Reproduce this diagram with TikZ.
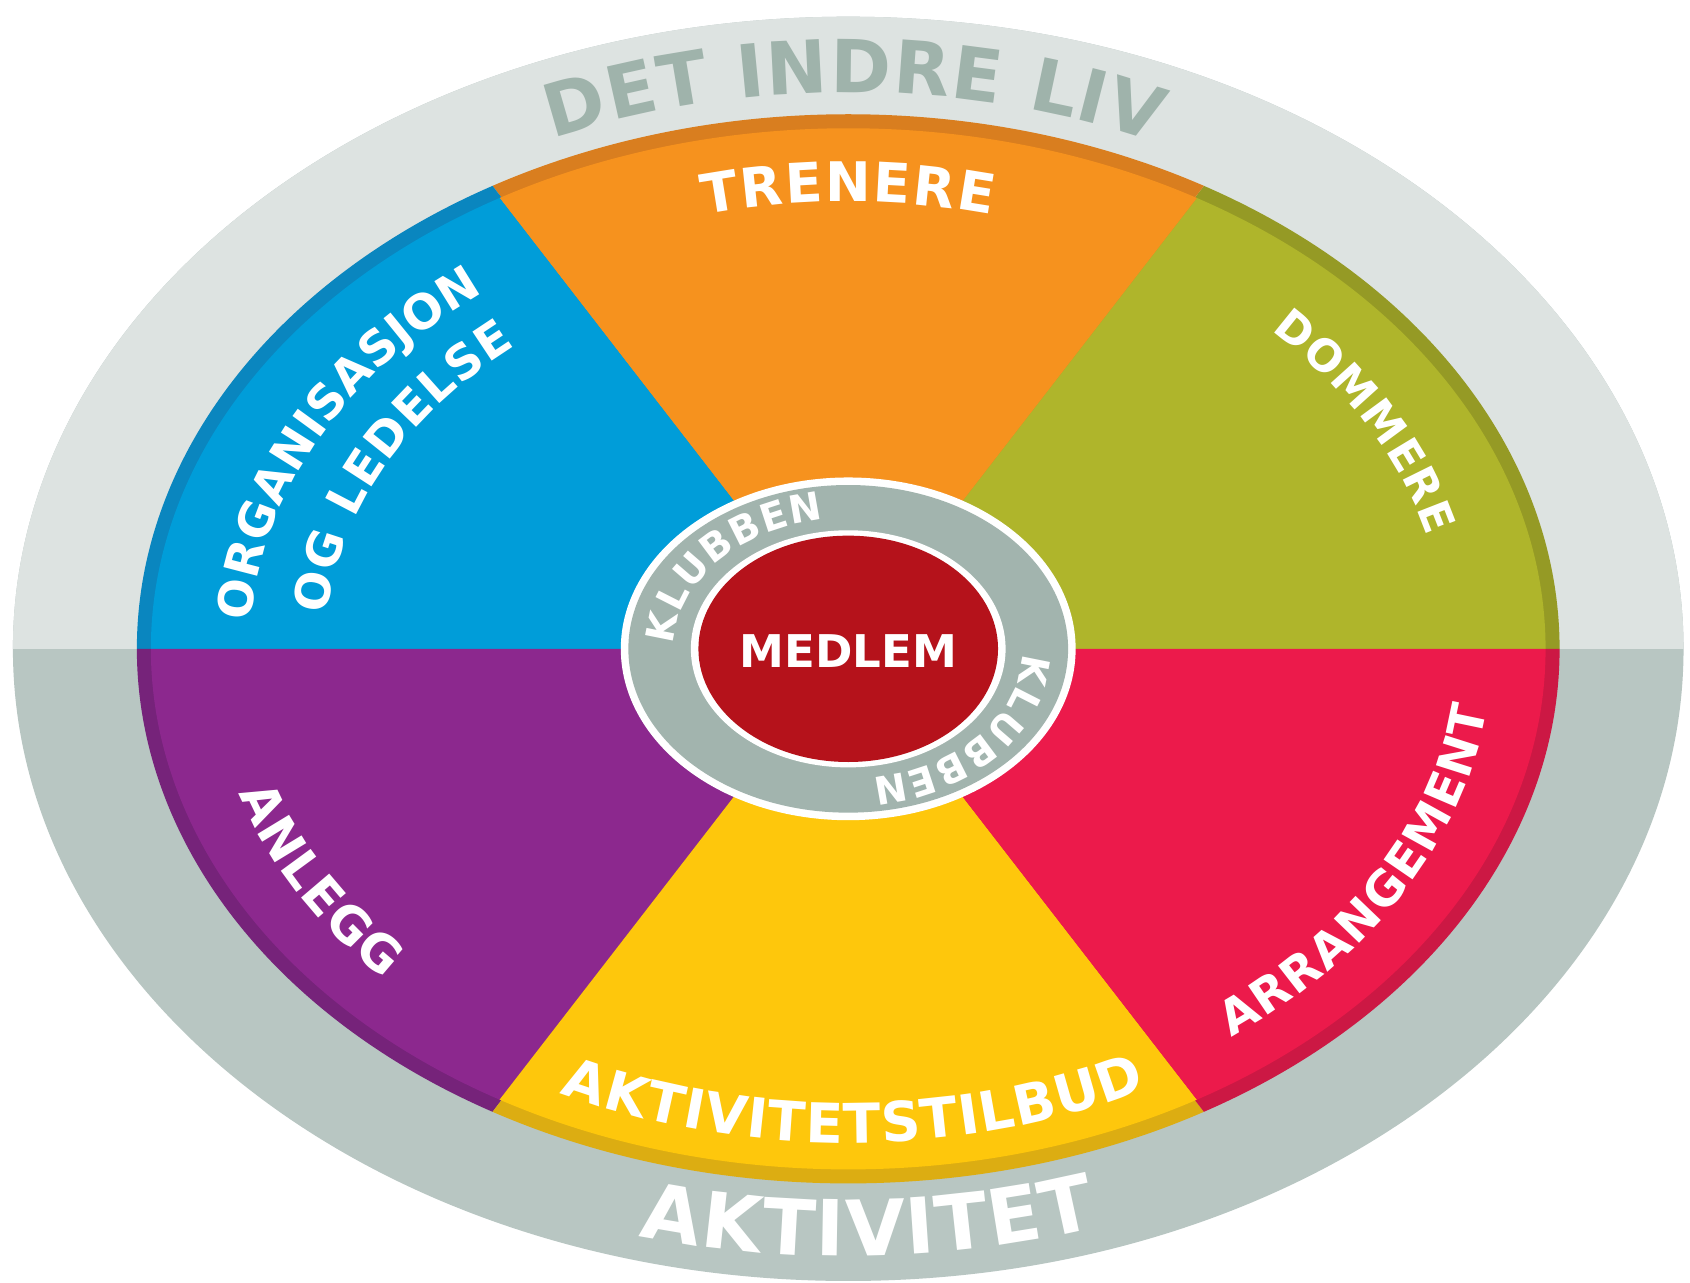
\documentclass[tikz,border=0pt]{standalone}
\usepackage{fontspec}
\newfontfamily\wheelfont{DejaVu Sans}
\usetikzlibrary{decorations.text}

\definecolor{ringtop}{HTML}{DDE3E1}
\definecolor{ringbottom}{HTML}{B8C6C2}
\definecolor{ringlabel}{HTML}{9FB3AB}
\definecolor{clubgrey}{HTML}{A2B4AE}
\definecolor{memberred}{HTML}{B5121B}
\definecolor{bluefill}{HTML}{009DD9}
\definecolor{bluerim}{HTML}{0A86BF}
\definecolor{orangefill}{HTML}{F6921E}
\definecolor{orangerim}{HTML}{D97E1F}
\definecolor{olivefill}{HTML}{AFB52B}
\definecolor{oliverim}{HTML}{959A25}
\definecolor{redfill}{HTML}{EC1A4B}
\definecolor{redrim}{HTML}{CC1844}
\definecolor{yellowfill}{HTML}{FEC70C}
\definecolor{yellowrim}{HTML}{DCAD12}
\definecolor{purplefill}{HTML}{8C288E}
\definecolor{purplerim}{HTML}{76237A}

\newcommand{\wfs}[1]{\wheelfont\bfseries\fontsize{#1}{#1}\selectfont}

\begin{document}
\begin{tikzpicture}[
wheeltext/.style={decorate, decoration={text along path, text={#1},
text align={fit to path}, text color=white}},
rimsector/.style={fill=#1},
innersector/.style={fill=#1}
]

\useasboundingbox (-7.87,-5.88) rectangle (7.81,6.02);
\fill[white] (-7.87,-5.88) rectangle (7.81,6.02);

%Outer ring
\fill[ringbottom] (0,0) ellipse [x radius=7.75, y radius=5.865];
\fill[ringtop] (7.75,0) arc[start angle=0, end angle=180, x radius=7.75, y radius=5.865] -- cycle;

%Sectors, dark rim first
\fill[rimsector=oliverim] (0,0) -- (0:6.6 and 4.96) arc[start angle=0, end angle=60, x radius=6.6, y radius=4.96] -- cycle;
\fill[rimsector=orangerim] (0,0) -- (60:6.6 and 4.96) arc[start angle=60, end angle=120, x radius=6.6, y radius=4.96] -- cycle;
\fill[rimsector=bluerim] (0,0) -- (120:6.6 and 4.96) arc[start angle=120, end angle=180, x radius=6.6, y radius=4.96] -- cycle;
\fill[rimsector=purplerim] (0,0) -- (180:6.6 and 4.96) arc[start angle=180, end angle=240, x radius=6.6, y radius=4.96] -- cycle;
\fill[rimsector=yellowrim] (0,0) -- (240:6.6 and 4.96) arc[start angle=240, end angle=300, x radius=6.6, y radius=4.96] -- cycle;
\fill[rimsector=redrim] (0,0) -- (300:6.6 and 4.96) arc[start angle=300, end angle=360, x radius=6.6, y radius=4.96] -- cycle;

\fill[innersector=olivefill] (0,0) -- (0:6.47 and 4.83) arc[start angle=0, end angle=60, x radius=6.47, y radius=4.83] -- cycle;
\fill[innersector=orangefill] (0,0) -- (60:6.47 and 4.83) arc[start angle=60, end angle=120, x radius=6.47, y radius=4.83] -- cycle;
\fill[innersector=bluefill] (0,0) -- (120:6.47 and 4.83) arc[start angle=120, end angle=180, x radius=6.47, y radius=4.83] -- cycle;
\fill[innersector=purplefill] (0,0) -- (180:6.47 and 4.83) arc[start angle=180, end angle=240, x radius=6.47, y radius=4.83] -- cycle;
\fill[innersector=yellowfill] (0,0) -- (240:6.47 and 4.83) arc[start angle=240, end angle=300, x radius=6.47, y radius=4.83] -- cycle;
\fill[innersector=redfill] (0,0) -- (300:6.47 and 4.83) arc[start angle=300, end angle=360, x radius=6.47, y radius=4.83] -- cycle;

%Centre
\fill[white] (0,0) ellipse [x radius=2.11, y radius=1.59];
\fill[clubgrey] (0,0) ellipse [x radius=2.04, y radius=1.52];
\fill[white] (0,0) ellipse [x radius=1.46, y radius=1.10];
\fill[memberred] (0,0) ellipse [x radius=1.39, y radius=1.05];
\node[font=\wfs{11.9}, text=white] (medlem) at (0,-0.02) {MEDLEM};

%Labels on the ring
\path[wheeltext={|\wfs{19.3}|DET INDRE LIV}, decoration={text color=ringlabel}] (113.5:6.87 and 5.163) arc[start angle=113.5, end angle=65.5, x radius=6.87, y radius=5.163];
\path[wheeltext={|\wfs{20.4}|AKTIVITET}] (255:7.50 and 5.636) arc[start angle=255, end angle=288, x radius=7.50, y radius=5.636];

%Labels in the sectors
\path[wheeltext={|\wfs{14.4}|TRENERE}] (104:5.52 and 4.148) arc[start angle=104, end angle=76, x radius=5.52, y radius=4.148];
\path[wheeltext={|\wfs{11.6}|DOMMERE}] (45:5.55 and 4.171) arc[start angle=45, end angle=14.5, x radius=5.55, y radius=4.171];
\path[wheeltext={|\wfs{12.7}|ARRANGEMENT}] (-53.5:5.97 and 4.487) arc[start angle=-53.5, end angle=-7, x radius=5.97, y radius=4.487];
\path[wheeltext={|\wfs{14.5}|AKTIVITETSTILBUD}] (244:6.10 and 4.584) arc[start angle=244, end angle=297, x radius=6.10, y radius=4.584];
\path[wheeltext={|\wfs{13.4}|ANLEGG}] (197.5:5.93 and 4.456) arc[start angle=197.5, end angle=223.5, x radius=5.93, y radius=4.456];
\path[wheeltext={|\wfs{12.6}|ORGANISASJON}] (176.5:5.55 and 4.171) arc[start angle=176.5, end angle=127.5, x radius=5.55, y radius=4.171];
\path[wheeltext={|\wfs{12.6}|OG LEDELSE}] (175:4.85 and 3.645) arc[start angle=175, end angle=129.5, x radius=4.85, y radius=3.645];

%Club ring
\path[wheeltext={|\wfs{10.2}|KLUBBEN}] (178:1.62 and 1.21) arc[start angle=178, end angle=98, x radius=1.62, y radius=1.21];
\path[wheeltext={|\wfs{10.2}|KLUBBEN}] (-2:1.62 and 1.21) arc[start angle=-2, end angle=-82, x radius=1.62, y radius=1.21];

\end{tikzpicture}
\end{document}
